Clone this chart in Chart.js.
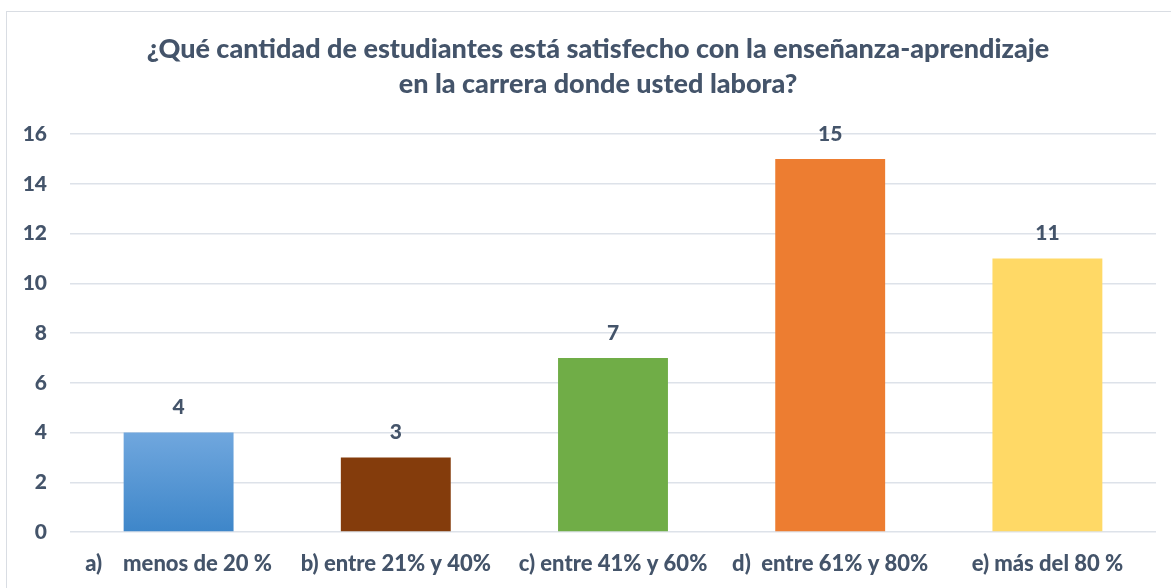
<!DOCTYPE html>
<html>
<head>
<meta charset="utf-8">
<script src="https://cdn.jsdelivr.net/npm/chart.js@4.4.0/dist/chart.umd.min.js"></script>
<style>
  html, body { margin: 0; padding: 0; background: #ffffff; }
  #wrap { position: relative; width: 1171px; height: 588px; overflow: hidden; }
  #frame { position: absolute; left: 6px; top: 11px; width: 1300px; height: 700px; border: 1px solid #d9dde3; box-sizing: border-box; }
  #c { position: absolute; left: 0; top: 0; }
</style>
</head>
<body>
<div id="wrap">
  <div id="frame"></div>
  <canvas id="c" width="1171" height="588"></canvas>
</div>
<script>
const titleLines = [
  '¿Qué cantidad de estudiantes está satisfecho con la enseñanza-aprendizaje',
  'en la carrera donde usted labora?'
];
const categories = [
  'a)    menos de 20 %',
  'b) entre 21% y 40%',
  'c) entre 41% y 60%',
  'd)  entre 61% y 80%',
  'e) más del 80 %'
];
const values = [4, 3, 7, 15, 11];
const yTicks = [0, 2, 4, 6, 8, 10, 12, 14, 16];

const textColor = '#44546a';
const fontFamily = 'Lato, "Open Sans", sans-serif';
const heavy = '900';

function barColor(ctx) {
  const i = ctx.dataIndex;
  if (i === 0) {
    const area = ctx.chart.chartArea;
    if (!area) return '#5b9bd5';
    const yScale = ctx.chart.scales.y;
    const top = yScale.getPixelForValue(values[0]);
    const g = ctx.chart.ctx.createLinearGradient(0, top, 0, area.bottom);
    g.addColorStop(0, '#70a7de');
    g.addColorStop(1, '#3e86c9');
    return g;
  }
  return ['#5b9bd5', '#843c0c', '#70ad47', '#ed7d31', '#ffd966'][i];
}

const valueLabels = {
  id: 'valueLabels',
  afterDatasetsDraw(chart) {
    const c = chart.ctx;
    const meta = chart.getDatasetMeta(0);
    c.save();
    c.fillStyle = textColor;
    c.font = heavy + ' 21px ' + fontFamily;
    c.textAlign = 'center';
    c.textBaseline = 'middle';
    meta.data.forEach((bar, i) => {
      c.fillText(String(values[i]), bar.x, bar.y - 25);
    });
    c.restore();
  }
};

new Chart(document.getElementById('c'), {
  type: 'bar',
  data: {
    labels: categories,
    datasets: [{
      data: values,
      backgroundColor: barColor,
      borderWidth: 0,
      categoryPercentage: 1.0,
      barPercentage: 0.506
    }]
  },
  options: {
    responsive: false,
    animation: false,
    devicePixelRatio: 1,
    layout: { padding: { left: 0, right: -25, top: 0, bottom: 0 } },
    plugins: {
      legend: { display: false },
      tooltip: { enabled: false },
      title: {
        display: true,
        text: titleLines,
        color: textColor,
        font: { family: fontFamily, size: 27, weight: heavy, lineHeight: 1.3 },
        padding: { top: 32, bottom: 32 }
      }
    },
    scales: {
      x: {
        grid: { display: false, drawTicks: false },
        border: { display: false },
        ticks: {
          color: textColor,
          font: { family: fontFamily, size: 22, weight: heavy },
          padding: 19,
          maxRotation: 0,
          autoSkip: false
        },
        afterFit(s) { s.height = 56; }
      },
      y: {
        min: 0,
        max: 16,
        afterBuildTicks(s) { s.ticks = yTicks.map(v => ({ value: v })); },
        grid: { color: '#dde2e9', lineWidth: 1.5, drawTicks: false },
        border: { display: false },
        ticks: {
          color: textColor,
          font: { family: fontFamily, size: 21, weight: heavy },
          padding: 23
        },
        afterFit(s) { s.width = 70; }
      },
      yRight: {
        position: 'right',
        display: true,
        grid: { display: false, drawTicks: false },
        border: { display: false },
        ticks: { display: false },
        afterFit(s) { s.width = 40; }
      }
    }
  },
  plugins: [valueLabels]
});
</script>
</body>
</html>
